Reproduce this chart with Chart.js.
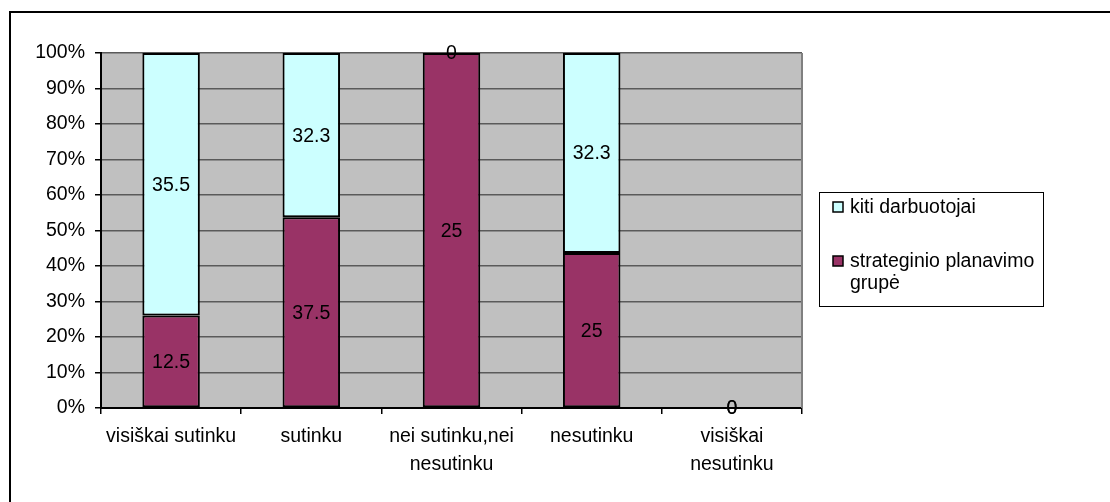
<!DOCTYPE html>
<html>
<head>
<meta charset="utf-8">
<script src="https://cdn.jsdelivr.net/npm/chart.js@4/dist/chart.umd.min.js"></script>
<style>
  html, body { margin: 0; padding: 0; background: #fff; }
  #wrap { width: 1110px; height: 502px; }
</style>
</head>
<body>
<div id="wrap"><canvas id="c" width="1110" height="502"></canvas></div>
<script>
// Survey answers (raw counts / shares per group)
const categories = [
  'visiškai sutinku',
  'sutinku',
  ['nei sutinku,nei', 'nesutinku'],
  'nesutinku',
  ['visiškai', 'nesutinku']
];
const strategGroup = [12.5, 37.5, 25, 25, 0];   // strateginio planavimo grupė
const otherStaff   = [35.5, 32.3, 0, 32.3, 0];  // kiti darbuotojai
const yTicks = [0, 10, 20, 30, 40, 50, 60, 70, 80, 90, 100];

const FONT = 'Liberation Sans, Arial, sans-serif';
const FSIZE = 19.5;
const MAROON = '#993366';
const CYAN = '#CCFFFF';

// 100% stacking: each column is scaled to its own total
const totals = strategGroup.map((v, i) => v + otherStaff[i]);
const toPct = arr => arr.map((v, i) => totals[i] ? v / totals[i] * 100 : 0);

const frameAndPlot = {
  id: 'frameAndPlot',
  beforeDraw(chart) {
    const { ctx, chartArea: a } = chart;
    ctx.save();
    ctx.fillStyle = '#fff';
    ctx.fillRect(0, 0, chart.width, chart.height);
    // outer frame (top + left edges)
    ctx.fillStyle = '#000';
    ctx.fillRect(9, 11, chart.width - 9, 2);
    ctx.fillRect(9, 11, 2, chart.height - 11);
    // plot background
    ctx.fillStyle = '#C0C0C0';
    ctx.fillRect(a.left, a.top, a.right - a.left, a.bottom - a.top);
    ctx.restore();
  },
  afterDatasetsDraw(chart) {
    const { ctx, chartArea: a } = chart;
    ctx.save();
    // right edge of the plot
    ctx.strokeStyle = '#808080';
    ctx.lineWidth = 2;
    ctx.beginPath();
    ctx.moveTo(a.right, a.top);
    ctx.lineTo(a.right, a.bottom);
    ctx.stroke();
    // value labels centred in each segment
    ctx.font = FSIZE + 'px ' + FONT;
    ctx.fillStyle = '#000';
    ctx.textAlign = 'center';
    ctx.textBaseline = 'middle';
    chart.data.datasets.forEach((ds, di) => {
      const meta = chart.getDatasetMeta(di);
      meta.data.forEach((bar, i) => {
        const p = bar.getProps(['x', 'y', 'base'], true);
        ctx.fillText(String(ds.raw[i]), p.x, (p.y + p.base) / 2 + 1);
      });
    });
    // legend box
    const lx = 819, ly = 192, lw = 224, lh = 114;
    ctx.fillStyle = '#fff';
    ctx.fillRect(lx, ly, lw, lh);
    ctx.strokeStyle = '#000';
    ctx.lineWidth = 1;
    ctx.strokeRect(lx + 0.5, ly + 0.5, lw, lh);
    const items = [
      { ds: chart.data.datasets[1], y: 207, lines: ['kiti darbuotojai'] },
      { ds: chart.data.datasets[0], y: 261, lines: ['strateginio planavimo', 'grupė'] }
    ];
    ctx.textAlign = 'left';
    items.forEach(it => {
      ctx.fillStyle = it.ds.backgroundColor;
      ctx.fillRect(833, it.y - 5, 10, 10);
      ctx.strokeStyle = '#000';
      ctx.lineWidth = 1.5;
      ctx.strokeRect(833, it.y - 5, 10, 10);
      ctx.fillStyle = '#000';
      it.lines.forEach((t, k) => ctx.fillText(t, 850, it.y + 1 + k * 22));
    });
    ctx.restore();
  }
};

new Chart(document.getElementById('c'), {
  type: 'bar',
  data: {
    labels: categories,
    datasets: [
      {
        label: 'strateginio planavimo grupė',
        raw: strategGroup,
        data: toPct(strategGroup),
        backgroundColor: MAROON,
        borderColor: '#000',
        borderWidth: 2,
        borderSkipped: false
      },
      {
        label: 'kiti darbuotojai',
        raw: otherStaff,
        data: toPct(otherStaff),
        backgroundColor: CYAN,
        borderColor: '#000',
        borderWidth: 2,
        borderSkipped: false
      }
    ]
  },
  options: {
    responsive: false,
    animation: false,
    events: [],
    devicePixelRatio: 1,
    layout: { padding: { left: 0, top: 53, right: 308, bottom: 0 } },
    datasets: { bar: { barPercentage: 0.41, categoryPercentage: 1 } },
    plugins: { legend: { display: false }, tooltip: { enabled: false } },
    scales: {
      x: {
        stacked: true,
        afterFit(s) { s.height = 94; },
        grid: { offset: true, drawOnChartArea: false, tickLength: 6, tickColor: '#000', lineWidth: 1.5 },
        border: { color: '#000', width: 2 },
        ticks: {
          color: '#000',
          padding: 9,
          maxRotation: 0,
          autoSkip: false,
          font: { family: FONT, size: FSIZE, lineHeight: 1.42 }
        }
      },
      y: {
        stacked: true,
        min: 0,
        max: 100,
        afterFit(s) { s.width = 101; },
        afterBuildTicks(s) { s.ticks = yTicks.map(v => ({ value: v })); },
        grid: { color: '#5a5a5a', lineWidth: 1.5, tickLength: 6, tickColor: '#000' },
        border: { color: '#000', width: 2 },
        ticks: {
          color: '#000',
          padding: 10,
          callback: v => v + '%',
          font: { family: FONT, size: FSIZE }
        }
      }
    }
  },
  plugins: [frameAndPlot]
});
</script>
</body>
</html>
